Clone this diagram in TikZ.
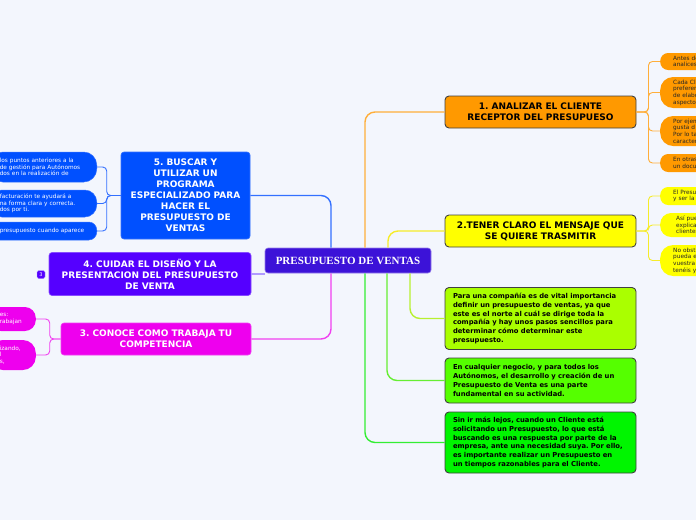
\documentclass[tikz,border=0pt]{standalone}
\usepackage{fontspec}
\setmainfont{DejaVu Sans}
\newfontfamily\titlefont{Liberation Serif}
\frenchspacing
\definecolor{bg}{HTML}{F3F6FD}
\definecolor{corange}{HTML}{FF9900}
\definecolor{lorange}{HTML}{FFAE3A}
\definecolor{cyellow}{HTML}{FFFF00}
\definecolor{lyellow}{HTML}{F6EC2A}
\definecolor{clime}{HTML}{AAFF00}
\definecolor{llime}{HTML}{B8F030}
\definecolor{cgreen}{HTML}{55FF00}
\definecolor{lgreen}{HTML}{66EE33}
\definecolor{cgreentwo}{HTML}{00F500}
\definecolor{lgreentwo}{HTML}{33EE33}
\definecolor{cblue}{HTML}{0050FF}
\definecolor{lblue}{HTML}{3370FF}
\definecolor{cviolet}{HTML}{5500FF}
\definecolor{lviolet}{HTML}{B09AFF}
\definecolor{cmag}{HTML}{EE00EE}
\definecolor{lmag}{HTML}{F040F0}
\definecolor{ccenter}{HTML}{3C12D8}
\tikzset{
  centrebox/.style={fill=ccenter, draw=ccenter!55!white, line width=0.6pt, rounded corners=3pt,
    minimum width=166pt, minimum height=25pt, text=white, inner sep=0pt,
    font=\fontsize{11}{13}\titlefont\bfseries},
  rbox/.style={draw=black!75, line width=0.9pt, rounded corners=4pt, text width=175pt,
    inner xsep=8pt, inner ysep=2pt, align=center, text=black,
    font=\fontsize{9}{11}\selectfont\bfseries},
  rtext/.style={rbox, align=left, font=\fontsize{6.8}{8.7}\selectfont\bfseries},
  lbox/.style={line width=0.6pt, rounded corners=3pt, inner ysep=2pt, align=center, text=white,
    font=\fontsize{9}{11}\selectfont\bfseries},
  rpill/.style={anchor=west, text width=50pt, inner xsep=13pt, inner ysep=0pt, align=left,
    text=black!85, font=\fontsize{5.8}{6.6}\selectfont},
  lpill/.style={anchor=east, inner xsep=10pt, inner ysep=0pt, align=left,
    text=white, font=\fontsize{5.8}{6.6}\selectfont},
  mainline/.style={line width=1.4pt, rounded corners=10pt},
  subline/.style={line width=0.9pt, rounded corners=4pt},
  badgebox/.style={fill=cviolet, draw=lviolet, line width=0.4pt, rounded corners=1.5pt,
    minimum size=8pt, inner sep=0pt, text=white, font=\fontsize{5}{5}\selectfont}
}
\begin{document}
\begin{tikzpicture}[x=1pt,y=-1pt]
\useasboundingbox (0,0) rectangle (696,520);
\fill[bg] (0,0) rectangle (696,520);
\clip (0,0) rectangle (696,520);

% central node
\node[centrebox] (c) at (348,260.5) {PRESUPUESTO DE VENTAS};

% right main nodes
\node[rbox, fill=corange, minimum height=32pt] (n1) at (540.5,112) {1. ANALIZAR EL CLIENTE\\RECEPTOR DEL PRESUPUESO};
\node[rbox, fill=cyellow, minimum height=32pt] (n2) at (540.5,231) {2.TENER CLARO EL MENSAJE QUE\\SE QUIERE TRASMITIR};
\node[rtext, fill=clime, minimum height=62pt] (np) at (540.5,318.5) {Para una compañía es de vital importancia\\definir un presupuesto de ventas, ya que\\este es el norte al cuál se dirige toda la\\compañía y hay unos pasos sencillos para\\determinar cómo determinar este\\presupuesto.};
\node[rtext, fill=cgreen, minimum height=45pt] (ne) at (540.5,380.5) {En cualquier negocio, y para todos los\\Autónomos, el desarrollo y creación de un\\Presupuesto de Venta es una parte\\fundamental en su actividad.};
\node[rtext, fill=cgreentwo, minimum height=61pt] (ns) at (540.5,442.5) {Sin ir más lejos, cuando un Cliente está\\solicitando un Presupuesto, lo que está\\buscando es una respuesta por parte de la\\empresa, ante una necesidad suya. Por ello,\\es importante realizar un Presupuesto en\\un tiempos razonables para el Cliente.};

% left main nodes
\node[lbox, fill=cblue, draw=lblue, text width=121pt, inner xsep=4pt, minimum height=87pt] (n5) at (185.5,195.5) {5. BUSCAR Y\\UTILIZAR UN\\PROGRAMA\\ESPECIALIZADO PARA\\HACER EL\\PRESUPUESTO DE\\VENTAS};
\node[lbox, fill=cviolet, draw=cviolet!70!white, text width=190pt, inner xsep=6pt, minimum height=43pt] (n4) at (150,274) {4. CUIDAR EL DISEÑO Y LA\\PRESENTACION DEL PRESUPUESTO\\DE VENTA};
\node[lbox, fill=cmag, draw=lmag, text width=178pt, inner xsep=6pt, minimum height=32pt] (n3) at (156,339) {3. CONOCE COMO TRABAJA TU\\COMPETENCIA};
\node[badgebox] (bd) at (41,274.5) {3};

% orange pills
\node[rpill, fill=corange, rounded corners=8pt, minimum height=17pt] (o1) at (660,61.5) {Antes de\\analices};
\node[rpill, fill=corange, rounded corners=13pt, minimum height=31pt] (o2) at (660,92.5) {Cada Cl\\preferen\\de elabo\\aspecto};
\node[rpill, fill=corange, rounded corners=13pt, minimum height=30pt] (o3) at (660,131) {Por ejem\\gusta d\\Por lo ta\\caracter};
\node[rpill, fill=corange, rounded corners=8pt, minimum height=18pt] (o4) at (660,163) {En otras\\un docu};

% yellow pills
\node[rpill, fill=cyellow, rounded corners=8pt, minimum height=18pt] (y1) at (660,196) {El Presup\\y ser la c};
\node[rpill, fill=cyellow, rounded corners=11pt, minimum height=24pt, inner xsep=16pt, text width=44pt] (y2) at (660,225) {Así pue\\explicar\\clientes};
\node[rpill, fill=cyellow, rounded corners=13pt, minimum height=31pt] (y3) at (660,260.5) {No obst\\pueda e\\vuestra\\tenéis y};

% blue pills
\node[lpill, fill=cblue, draw=lblue, line width=0.5pt, rounded corners=13pt, text width=87pt, minimum height=30pt] (b1) at (97,167) {los puntos anteriores a la\\de gestión para Autónomos\\dos en la realización de};
\node[lpill, fill=cblue, draw=lblue, line width=0.5pt, rounded corners=12pt, text width=87pt, minimum height=27pt] (b2) at (97,203.5) {facturación te ayudará a\\na forma clara y correcta.\\dos por ti.};
\node[lpill, fill=cblue, draw=lblue, line width=0.5pt, rounded corners=8pt, text width=87pt, minimum height=18pt] (b3) at (97,231) {presupuesto cuando aparece};

% magenta pills
\node[lpill, fill=cmag, rounded corners=11pt, text width=26pt, minimum height=24pt] (m1) at (36,319) {es:\\rabajan};
\node[lpill, fill=cmag, rounded corners=13pt, text width=26pt, minimum height=30pt] (m2) at (36,355) {izando,\\l\\s,};

% main connectors
\draw[mainline, lorange] ([xshift=17pt]c.north) |- (n1.west);
\draw[mainline, lyellow] ([xshift=40pt]c.north) |- (n2.west);
\draw[mainline, llime] ([xshift=62pt]c.south) |- (np.west);
\draw[mainline, lgreen] ([xshift=39pt]c.south) |- (ne.west);
\draw[mainline, lgreentwo] ([xshift=17pt]c.south) |- (ns.west);
\draw[mainline, lblue] ([xshift=-17pt]c.north) |- (n5.east);
\draw[mainline, lmag] ([xshift=-17pt]c.south) |- (n3.east);
\draw[mainline, lviolet] (n4.east) -- (n4.east -| c.west);

% sub connectors
\foreach \p in {o1,o2,o3,o4} \draw[subline, lorange] (n1.east) -- ++(12,0) |- (\p.west);
\foreach \p in {y1,y2,y3} \draw[subline, lyellow] (n2.east) -- ++(12,0) |- (\p.west);
\foreach \p in {b1,b2,b3} \draw[subline, lblue] (n5.west) -- ++(-14,0) |- (\p.east);
\foreach \p in {m1,m2} \draw[subline, lmag] (n3.west) -- ++(-11,0) |- (\p.east);
\end{tikzpicture}
\end{document}
